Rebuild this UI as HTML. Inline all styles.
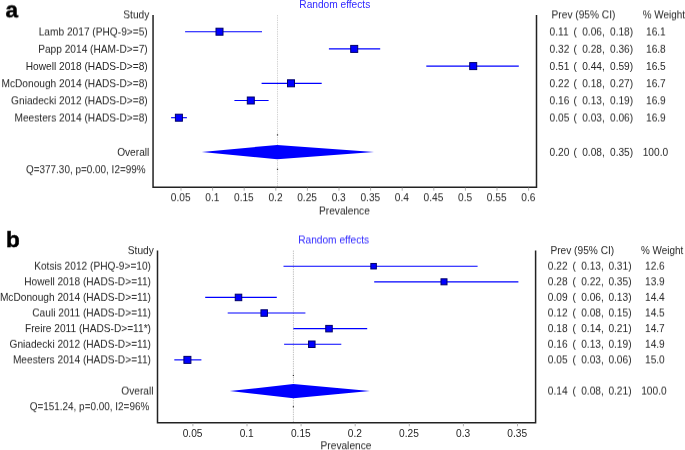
<!DOCTYPE html>
<html><head><meta charset="utf-8"><title>Forest plot</title>
<style>
html,body{margin:0;padding:0;background:#fff;}
body{width:685px;height:450px;overflow:hidden;font-family:'Liberation Sans', sans-serif;}
svg{display:block;font-family:'Liberation Sans', sans-serif;}
</style></head><body>
<svg width="685" height="450" viewBox="0 0 685 450">
<rect width="685" height="450" fill="#ffffff"/>
<defs><filter id="s0" x="-3%" y="-30%" width="106%" height="160%" color-interpolation-filters="sRGB"><feConvolveMatrix order="1 2" kernelMatrix="1.0 0.0" targetX="0" targetY="1" edgeMode="none" preserveAlpha="false"/></filter>
<filter id="s1" x="-3%" y="-30%" width="106%" height="160%" color-interpolation-filters="sRGB"><feConvolveMatrix order="1 2" kernelMatrix="0.9 0.1" targetX="0" targetY="1" edgeMode="none" preserveAlpha="false"/></filter>
<filter id="s2" x="-3%" y="-30%" width="106%" height="160%" color-interpolation-filters="sRGB"><feConvolveMatrix order="1 2" kernelMatrix="0.8 0.2" targetX="0" targetY="1" edgeMode="none" preserveAlpha="false"/></filter>
<filter id="s3" x="-3%" y="-30%" width="106%" height="160%" color-interpolation-filters="sRGB"><feConvolveMatrix order="1 2" kernelMatrix="0.7 0.3" targetX="0" targetY="1" edgeMode="none" preserveAlpha="false"/></filter>
<filter id="s4" x="-3%" y="-30%" width="106%" height="160%" color-interpolation-filters="sRGB"><feConvolveMatrix order="1 2" kernelMatrix="0.6 0.4" targetX="0" targetY="1" edgeMode="none" preserveAlpha="false"/></filter>
<filter id="s5" x="-3%" y="-30%" width="106%" height="160%" color-interpolation-filters="sRGB"><feConvolveMatrix order="1 2" kernelMatrix="0.5 0.5" targetX="0" targetY="1" edgeMode="none" preserveAlpha="false"/></filter>
<filter id="s6" x="-3%" y="-30%" width="106%" height="160%" color-interpolation-filters="sRGB"><feConvolveMatrix order="1 2" kernelMatrix="0.4 0.6" targetX="0" targetY="1" edgeMode="none" preserveAlpha="false"/></filter>
<filter id="s7" x="-3%" y="-30%" width="106%" height="160%" color-interpolation-filters="sRGB"><feConvolveMatrix order="1 2" kernelMatrix="0.3 0.7" targetX="0" targetY="1" edgeMode="none" preserveAlpha="false"/></filter>
<filter id="s8" x="-3%" y="-30%" width="106%" height="160%" color-interpolation-filters="sRGB"><feConvolveMatrix order="1 2" kernelMatrix="0.2 0.8" targetX="0" targetY="1" edgeMode="none" preserveAlpha="false"/></filter>
<filter id="s9" x="-3%" y="-30%" width="106%" height="160%" color-interpolation-filters="sRGB"><feConvolveMatrix order="1 2" kernelMatrix="0.1 0.9" targetX="0" targetY="1" edgeMode="none" preserveAlpha="false"/></filter></defs>
<text x="5.5" y="17" filter="url(#s4)" text-anchor="start" fill="#000" font-size="22.5" font-weight="bold" stroke="#000" stroke-width="0.5" xml:space="preserve">a</text>
<text x="149.3" y="18" filter="url(#s4)" text-anchor="end" fill="#262626" font-size="10.17" font-weight="normal"  xml:space="preserve">Study</text>
<text x="299.3" y="8" filter="url(#s0)" text-anchor="start" fill="#3028ff" font-size="10.17" font-weight="normal"  xml:space="preserve">Random effects</text>
<text x="551.6" y="18" filter="url(#s4)" text-anchor="start" fill="#262626" font-size="10.17" font-weight="normal"  xml:space="preserve">Prev (95% CI)</text>
<text x="642.8" y="18" filter="url(#s4)" text-anchor="start" fill="#262626" font-size="10.17" font-weight="normal" textLength="42.2" lengthAdjust="spacingAndGlyphs" xml:space="preserve">% Weight</text>
<line x1="277.5" y1="15" x2="277.5" y2="187.2" stroke="#d4d4d4" stroke-width="1.0" stroke-dasharray="1.4 0.9"/>
<text x="147.7" y="35" filter="url(#s5)" text-anchor="end" fill="#262626" font-size="10.17" font-weight="normal"  xml:space="preserve">Lamb 2017 (PHQ-9&gt;=5)</text>
<line x1="185.1" y1="31.7" x2="262.0" y2="31.7" stroke="#0000ff" stroke-width="1.15" />
<rect x="216.00" y="28.20" width="7" height="7" fill="#0000ff" stroke="#00006a" stroke-width="1"/>
<text x="549.6" y="35" filter="url(#s5)" text-anchor="start" fill="#262626" font-size="10.17" font-weight="normal"  xml:space="preserve">0.11</text>
<text x="573.6" y="35" filter="url(#s5)" text-anchor="start" fill="#262626" font-size="10.17" font-weight="normal"  xml:space="preserve">(</text>
<text x="582.2" y="35" filter="url(#s5)" text-anchor="start" fill="#262626" font-size="10.17" font-weight="normal"  xml:space="preserve">0.06,</text>
<text x="610.0" y="35" filter="url(#s5)" text-anchor="start" fill="#262626" font-size="10.17" font-weight="normal"  xml:space="preserve">0.18)</text>
<text x="646.0" y="35" filter="url(#s5)" text-anchor="start" fill="#262626" font-size="10.17" font-weight="normal"  xml:space="preserve">16.1</text>
<text x="147.7" y="52" filter="url(#s8)" text-anchor="end" fill="#262626" font-size="10.17" font-weight="normal"  xml:space="preserve">Papp 2014 (HAM-D&gt;=7)</text>
<line x1="328.9" y1="48.9" x2="380.2" y2="48.9" stroke="#0000ff" stroke-width="1.15" />
<rect x="350.70" y="45.40" width="7" height="7" fill="#0000ff" stroke="#00006a" stroke-width="1"/>
<text x="549.6" y="52" filter="url(#s8)" text-anchor="start" fill="#262626" font-size="10.17" font-weight="normal"  xml:space="preserve">0.32</text>
<text x="573.6" y="52" filter="url(#s8)" text-anchor="start" fill="#262626" font-size="10.17" font-weight="normal"  xml:space="preserve">(</text>
<text x="582.2" y="52" filter="url(#s8)" text-anchor="start" fill="#262626" font-size="10.17" font-weight="normal"  xml:space="preserve">0.28,</text>
<text x="610.0" y="52" filter="url(#s8)" text-anchor="start" fill="#262626" font-size="10.17" font-weight="normal"  xml:space="preserve">0.36)</text>
<text x="646.0" y="52" filter="url(#s8)" text-anchor="start" fill="#262626" font-size="10.17" font-weight="normal"  xml:space="preserve">16.8</text>
<text x="147.7" y="70" filter="url(#s0)" text-anchor="end" fill="#262626" font-size="10.17" font-weight="normal"  xml:space="preserve">Howell 2018 (HADS-D&gt;=8)</text>
<line x1="426.3" y1="66.1" x2="518.8" y2="66.1" stroke="#0000ff" stroke-width="1.15" />
<rect x="469.70" y="62.60" width="7" height="7" fill="#0000ff" stroke="#00006a" stroke-width="1"/>
<text x="549.6" y="70" filter="url(#s0)" text-anchor="start" fill="#262626" font-size="10.17" font-weight="normal"  xml:space="preserve">0.51</text>
<text x="573.6" y="70" filter="url(#s0)" text-anchor="start" fill="#262626" font-size="10.17" font-weight="normal"  xml:space="preserve">(</text>
<text x="582.2" y="70" filter="url(#s0)" text-anchor="start" fill="#262626" font-size="10.17" font-weight="normal"  xml:space="preserve">0.44,</text>
<text x="610.0" y="70" filter="url(#s0)" text-anchor="start" fill="#262626" font-size="10.17" font-weight="normal"  xml:space="preserve">0.59)</text>
<text x="646.0" y="70" filter="url(#s0)" text-anchor="start" fill="#262626" font-size="10.17" font-weight="normal"  xml:space="preserve">16.5</text>
<text x="147.7" y="87" filter="url(#s2)" text-anchor="end" fill="#262626" font-size="10.17" font-weight="normal"  xml:space="preserve">McDonough 2014 (HADS-D&gt;=8)</text>
<line x1="261.6" y1="83.3" x2="321.7" y2="83.3" stroke="#0000ff" stroke-width="1.15" />
<rect x="287.50" y="79.80" width="7" height="7" fill="#0000ff" stroke="#00006a" stroke-width="1"/>
<text x="549.6" y="87" filter="url(#s2)" text-anchor="start" fill="#262626" font-size="10.17" font-weight="normal"  xml:space="preserve">0.22</text>
<text x="573.6" y="87" filter="url(#s2)" text-anchor="start" fill="#262626" font-size="10.17" font-weight="normal"  xml:space="preserve">(</text>
<text x="582.2" y="87" filter="url(#s2)" text-anchor="start" fill="#262626" font-size="10.17" font-weight="normal"  xml:space="preserve">0.18,</text>
<text x="610.0" y="87" filter="url(#s2)" text-anchor="start" fill="#262626" font-size="10.17" font-weight="normal"  xml:space="preserve">0.27)</text>
<text x="646.0" y="87" filter="url(#s2)" text-anchor="start" fill="#262626" font-size="10.17" font-weight="normal"  xml:space="preserve">16.7</text>
<text x="147.7" y="104" filter="url(#s3)" text-anchor="end" fill="#262626" font-size="10.17" font-weight="normal"  xml:space="preserve">Gniadecki 2012 (HADS-D&gt;=8)</text>
<line x1="234.4" y1="100.5" x2="268.6" y2="100.5" stroke="#0000ff" stroke-width="1.15" />
<rect x="247.30" y="97.00" width="7" height="7" fill="#0000ff" stroke="#00006a" stroke-width="1"/>
<text x="549.6" y="104" filter="url(#s3)" text-anchor="start" fill="#262626" font-size="10.17" font-weight="normal"  xml:space="preserve">0.16</text>
<text x="573.6" y="104" filter="url(#s3)" text-anchor="start" fill="#262626" font-size="10.17" font-weight="normal"  xml:space="preserve">(</text>
<text x="582.2" y="104" filter="url(#s3)" text-anchor="start" fill="#262626" font-size="10.17" font-weight="normal"  xml:space="preserve">0.13,</text>
<text x="610.0" y="104" filter="url(#s3)" text-anchor="start" fill="#262626" font-size="10.17" font-weight="normal"  xml:space="preserve">0.19)</text>
<text x="646.0" y="104" filter="url(#s3)" text-anchor="start" fill="#262626" font-size="10.17" font-weight="normal"  xml:space="preserve">16.9</text>
<text x="147.7" y="121" filter="url(#s5)" text-anchor="end" fill="#262626" font-size="10.17" font-weight="normal"  xml:space="preserve">Meesters 2014 (HADS-D&gt;=8)</text>
<line x1="171.1" y1="117.7" x2="186.9" y2="117.7" stroke="#0000ff" stroke-width="1.15" />
<rect x="175.40" y="114.20" width="7" height="7" fill="#0000ff" stroke="#00006a" stroke-width="1"/>
<text x="549.6" y="121" filter="url(#s5)" text-anchor="start" fill="#262626" font-size="10.17" font-weight="normal"  xml:space="preserve">0.05</text>
<text x="573.6" y="121" filter="url(#s5)" text-anchor="start" fill="#262626" font-size="10.17" font-weight="normal"  xml:space="preserve">(</text>
<text x="582.2" y="121" filter="url(#s5)" text-anchor="start" fill="#262626" font-size="10.17" font-weight="normal"  xml:space="preserve">0.03,</text>
<text x="610.0" y="121" filter="url(#s5)" text-anchor="start" fill="#262626" font-size="10.17" font-weight="normal"  xml:space="preserve">0.06)</text>
<text x="646.0" y="121" filter="url(#s5)" text-anchor="start" fill="#262626" font-size="10.17" font-weight="normal"  xml:space="preserve">16.9</text>
<text x="149.3" y="155" filter="url(#s9)" text-anchor="end" fill="#262626" font-size="10.17" font-weight="normal"  xml:space="preserve">Overall</text>
<text x="145.6" y="173" filter="url(#s2)" text-anchor="end" fill="#262626" font-size="10.17" font-weight="normal" textLength="119.6" lengthAdjust="spacingAndGlyphs" xml:space="preserve">Q=377.30, p=0.00, I2=99%</text>
<polygon points="201.8,152.1 277.2,144.9 374.0,152.1 277.2,159.29999999999998" fill="#0000ff"/>
<rect x="276.9" y="134.3" width="1.2" height="1.2" fill="#333"/>
<rect x="276.9" y="168.70000000000002" width="1.2" height="1.2" fill="#333"/>
<text x="549.6" y="155" filter="url(#s9)" text-anchor="start" fill="#262626" font-size="10.17" font-weight="normal"  xml:space="preserve">0.20</text>
<text x="573.6" y="155" filter="url(#s9)" text-anchor="start" fill="#262626" font-size="10.17" font-weight="normal"  xml:space="preserve">(</text>
<text x="582.2" y="155" filter="url(#s9)" text-anchor="start" fill="#262626" font-size="10.17" font-weight="normal"  xml:space="preserve">0.08,</text>
<text x="610.0" y="155" filter="url(#s9)" text-anchor="start" fill="#262626" font-size="10.17" font-weight="normal"  xml:space="preserve">0.35)</text>
<text x="642.7" y="155" filter="url(#s9)" text-anchor="start" fill="#262626" font-size="10.17" font-weight="normal"  xml:space="preserve">100.0</text>
<polyline points="153.05,15 153.05,187.2 536.5,187.2 536.5,15" fill="none" stroke="#222222" stroke-width="1.5"/>
<line x1="181.0" y1="187.7" x2="181.0" y2="190.7" stroke="#b0b0b0" stroke-width="1" />
<text x="180.7" y="201" filter="url(#s2)" text-anchor="middle" fill="#262626" font-size="10.17" font-weight="normal"  xml:space="preserve">0.05</text>
<line x1="212.6" y1="187.7" x2="212.6" y2="190.7" stroke="#b0b0b0" stroke-width="1" />
<text x="212.29999999999998" y="201" filter="url(#s2)" text-anchor="middle" fill="#262626" font-size="10.17" font-weight="normal"  xml:space="preserve">0.1</text>
<line x1="244.2" y1="187.7" x2="244.2" y2="190.7" stroke="#b0b0b0" stroke-width="1" />
<text x="243.89999999999998" y="201" filter="url(#s2)" text-anchor="middle" fill="#262626" font-size="10.17" font-weight="normal"  xml:space="preserve">0.15</text>
<line x1="275.8" y1="187.7" x2="275.8" y2="190.7" stroke="#b0b0b0" stroke-width="1" />
<text x="275.5" y="201" filter="url(#s2)" text-anchor="middle" fill="#262626" font-size="10.17" font-weight="normal"  xml:space="preserve">0.2</text>
<line x1="307.40000000000003" y1="187.7" x2="307.40000000000003" y2="190.7" stroke="#b0b0b0" stroke-width="1" />
<text x="307.1" y="201" filter="url(#s2)" text-anchor="middle" fill="#262626" font-size="10.17" font-weight="normal"  xml:space="preserve">0.25</text>
<line x1="339.0" y1="187.7" x2="339.0" y2="190.7" stroke="#b0b0b0" stroke-width="1" />
<text x="338.7" y="201" filter="url(#s2)" text-anchor="middle" fill="#262626" font-size="10.17" font-weight="normal"  xml:space="preserve">0.3</text>
<line x1="370.6" y1="187.7" x2="370.6" y2="190.7" stroke="#b0b0b0" stroke-width="1" />
<text x="370.3" y="201" filter="url(#s2)" text-anchor="middle" fill="#262626" font-size="10.17" font-weight="normal"  xml:space="preserve">0.35</text>
<line x1="402.2" y1="187.7" x2="402.2" y2="190.7" stroke="#b0b0b0" stroke-width="1" />
<text x="401.9" y="201" filter="url(#s2)" text-anchor="middle" fill="#262626" font-size="10.17" font-weight="normal"  xml:space="preserve">0.4</text>
<line x1="433.8" y1="187.7" x2="433.8" y2="190.7" stroke="#b0b0b0" stroke-width="1" />
<text x="433.5" y="201" filter="url(#s2)" text-anchor="middle" fill="#262626" font-size="10.17" font-weight="normal"  xml:space="preserve">0.45</text>
<line x1="465.40000000000003" y1="187.7" x2="465.40000000000003" y2="190.7" stroke="#b0b0b0" stroke-width="1" />
<text x="465.1" y="201" filter="url(#s2)" text-anchor="middle" fill="#262626" font-size="10.17" font-weight="normal"  xml:space="preserve">0.5</text>
<line x1="497.0" y1="187.7" x2="497.0" y2="190.7" stroke="#b0b0b0" stroke-width="1" />
<text x="496.7" y="201" filter="url(#s2)" text-anchor="middle" fill="#262626" font-size="10.17" font-weight="normal"  xml:space="preserve">0.55</text>
<line x1="528.5999999999999" y1="187.7" x2="528.5999999999999" y2="190.7" stroke="#b0b0b0" stroke-width="1" />
<text x="528.3" y="201" filter="url(#s2)" text-anchor="middle" fill="#262626" font-size="10.17" font-weight="normal"  xml:space="preserve">0.6</text>
<text x="319.0" y="214" filter="url(#s5)" text-anchor="start" fill="#262626" font-size="10.17" font-weight="normal"  xml:space="preserve">Prevalence</text>
<text x="6.1" y="247" filter="url(#s1)" text-anchor="start" fill="#000" font-size="22.5" font-weight="bold" stroke="#000" stroke-width="0.5" xml:space="preserve">b</text>
<text x="153.8" y="254" filter="url(#s1)" text-anchor="end" fill="#262626" font-size="10.17" font-weight="normal"  xml:space="preserve">Study</text>
<text x="298.2" y="243" filter="url(#s5)" text-anchor="start" fill="#3028ff" font-size="10.17" font-weight="normal"  xml:space="preserve">Random effects</text>
<text x="550.4" y="254" filter="url(#s1)" text-anchor="start" fill="#262626" font-size="10.17" font-weight="normal"  xml:space="preserve">Prev (95% CI)</text>
<text x="641.0" y="254" filter="url(#s1)" text-anchor="start" fill="#262626" font-size="10.17" font-weight="normal" textLength="42.2" lengthAdjust="spacingAndGlyphs" xml:space="preserve">% Weight</text>
<line x1="293.4" y1="250.5" x2="293.4" y2="422.8" stroke="#c2c2c2" stroke-width="1.0" stroke-dasharray="1.4 0.9"/>
<text x="151.0" y="269" filter="url(#s7)" text-anchor="end" fill="#262626" font-size="10.17" font-weight="normal"  xml:space="preserve">Kotsis 2012 (PHQ-9&gt;=10)</text>
<line x1="283.5" y1="266.21" x2="477.6" y2="266.21" stroke="#0000ff" stroke-width="1.15" />
<rect x="370.85" y="263.46" width="5.5" height="5.5" fill="#0000ff" stroke="#00006a" stroke-width="1"/>
<text x="547.8" y="269" filter="url(#s7)" text-anchor="start" fill="#262626" font-size="10.17" font-weight="normal"  xml:space="preserve">0.22</text>
<text x="572.4" y="269" filter="url(#s7)" text-anchor="start" fill="#262626" font-size="10.17" font-weight="normal"  xml:space="preserve">(</text>
<text x="581.2" y="269" filter="url(#s7)" text-anchor="start" fill="#262626" font-size="10.17" font-weight="normal"  xml:space="preserve">0.13,</text>
<text x="608.4" y="269" filter="url(#s7)" text-anchor="start" fill="#262626" font-size="10.17" font-weight="normal"  xml:space="preserve">0.31)</text>
<text x="645.0" y="269" filter="url(#s7)" text-anchor="start" fill="#262626" font-size="10.17" font-weight="normal"  xml:space="preserve">12.6</text>
<text x="151.0" y="285" filter="url(#s3)" text-anchor="end" fill="#262626" font-size="10.17" font-weight="normal"  xml:space="preserve">Howell 2018 (HADS-D&gt;=11)</text>
<line x1="374.2" y1="281.82" x2="518.4" y2="281.82" stroke="#0000ff" stroke-width="1.15" />
<rect x="441.00" y="278.82" width="6" height="6" fill="#0000ff" stroke="#00006a" stroke-width="1"/>
<text x="547.8" y="285" filter="url(#s3)" text-anchor="start" fill="#262626" font-size="10.17" font-weight="normal"  xml:space="preserve">0.28</text>
<text x="572.4" y="285" filter="url(#s3)" text-anchor="start" fill="#262626" font-size="10.17" font-weight="normal"  xml:space="preserve">(</text>
<text x="581.2" y="285" filter="url(#s3)" text-anchor="start" fill="#262626" font-size="10.17" font-weight="normal"  xml:space="preserve">0.22,</text>
<text x="608.4" y="285" filter="url(#s3)" text-anchor="start" fill="#262626" font-size="10.17" font-weight="normal"  xml:space="preserve">0.35)</text>
<text x="645.0" y="285" filter="url(#s3)" text-anchor="start" fill="#262626" font-size="10.17" font-weight="normal"  xml:space="preserve">13.9</text>
<text x="151.0" y="300" filter="url(#s9)" text-anchor="end" fill="#262626" font-size="10.17" font-weight="normal"  xml:space="preserve">McDonough 2014 (HADS-D&gt;=11)</text>
<line x1="205.2" y1="297.43" x2="276.8" y2="297.43" stroke="#0000ff" stroke-width="1.15" />
<rect x="235.25" y="294.18" width="6.5" height="6.5" fill="#0000ff" stroke="#00006a" stroke-width="1"/>
<text x="547.8" y="300" filter="url(#s9)" text-anchor="start" fill="#262626" font-size="10.17" font-weight="normal"  xml:space="preserve">0.09</text>
<text x="572.4" y="300" filter="url(#s9)" text-anchor="start" fill="#262626" font-size="10.17" font-weight="normal"  xml:space="preserve">(</text>
<text x="581.2" y="300" filter="url(#s9)" text-anchor="start" fill="#262626" font-size="10.17" font-weight="normal"  xml:space="preserve">0.06,</text>
<text x="608.4" y="300" filter="url(#s9)" text-anchor="start" fill="#262626" font-size="10.17" font-weight="normal"  xml:space="preserve">0.13)</text>
<text x="645.0" y="300" filter="url(#s9)" text-anchor="start" fill="#262626" font-size="10.17" font-weight="normal"  xml:space="preserve">14.4</text>
<text x="151.0" y="316" filter="url(#s5)" text-anchor="end" fill="#262626" font-size="10.17" font-weight="normal"  xml:space="preserve">Cauli 2011 (HADS-D&gt;=11)</text>
<line x1="227.7" y1="313.04" x2="305.4" y2="313.04" stroke="#0000ff" stroke-width="1.15" />
<rect x="260.95" y="309.79" width="6.5" height="6.5" fill="#0000ff" stroke="#00006a" stroke-width="1"/>
<text x="547.8" y="316" filter="url(#s5)" text-anchor="start" fill="#262626" font-size="10.17" font-weight="normal"  xml:space="preserve">0.12</text>
<text x="572.4" y="316" filter="url(#s5)" text-anchor="start" fill="#262626" font-size="10.17" font-weight="normal"  xml:space="preserve">(</text>
<text x="581.2" y="316" filter="url(#s5)" text-anchor="start" fill="#262626" font-size="10.17" font-weight="normal"  xml:space="preserve">0.08,</text>
<text x="608.4" y="316" filter="url(#s5)" text-anchor="start" fill="#262626" font-size="10.17" font-weight="normal"  xml:space="preserve">0.15)</text>
<text x="645.0" y="316" filter="url(#s5)" text-anchor="start" fill="#262626" font-size="10.17" font-weight="normal"  xml:space="preserve">14.5</text>
<text x="151.0" y="332" filter="url(#s1)" text-anchor="end" fill="#262626" font-size="10.17" font-weight="normal"  xml:space="preserve">Freire 2011 (HADS-D&gt;=11*)</text>
<line x1="293.4" y1="328.65" x2="367.2" y2="328.65" stroke="#0000ff" stroke-width="1.15" />
<rect x="325.75" y="325.40" width="6.5" height="6.5" fill="#0000ff" stroke="#00006a" stroke-width="1"/>
<text x="547.8" y="332" filter="url(#s1)" text-anchor="start" fill="#262626" font-size="10.17" font-weight="normal"  xml:space="preserve">0.18</text>
<text x="572.4" y="332" filter="url(#s1)" text-anchor="start" fill="#262626" font-size="10.17" font-weight="normal"  xml:space="preserve">(</text>
<text x="581.2" y="332" filter="url(#s1)" text-anchor="start" fill="#262626" font-size="10.17" font-weight="normal"  xml:space="preserve">0.14,</text>
<text x="608.4" y="332" filter="url(#s1)" text-anchor="start" fill="#262626" font-size="10.17" font-weight="normal"  xml:space="preserve">0.21)</text>
<text x="645.0" y="332" filter="url(#s1)" text-anchor="start" fill="#262626" font-size="10.17" font-weight="normal"  xml:space="preserve">14.7</text>
<text x="151.0" y="347" filter="url(#s8)" text-anchor="end" fill="#262626" font-size="10.17" font-weight="normal"  xml:space="preserve">Gniadecki 2012 (HADS-D&gt;=11)</text>
<line x1="284.1" y1="344.26" x2="341.3" y2="344.26" stroke="#0000ff" stroke-width="1.15" />
<rect x="308.55" y="341.01" width="6.5" height="6.5" fill="#0000ff" stroke="#00006a" stroke-width="1"/>
<text x="547.8" y="347" filter="url(#s8)" text-anchor="start" fill="#262626" font-size="10.17" font-weight="normal"  xml:space="preserve">0.16</text>
<text x="572.4" y="347" filter="url(#s8)" text-anchor="start" fill="#262626" font-size="10.17" font-weight="normal"  xml:space="preserve">(</text>
<text x="581.2" y="347" filter="url(#s8)" text-anchor="start" fill="#262626" font-size="10.17" font-weight="normal"  xml:space="preserve">0.13,</text>
<text x="608.4" y="347" filter="url(#s8)" text-anchor="start" fill="#262626" font-size="10.17" font-weight="normal"  xml:space="preserve">0.19)</text>
<text x="645.0" y="347" filter="url(#s8)" text-anchor="start" fill="#262626" font-size="10.17" font-weight="normal"  xml:space="preserve">14.9</text>
<text x="151.0" y="363" filter="url(#s4)" text-anchor="end" fill="#262626" font-size="10.17" font-weight="normal"  xml:space="preserve">Meesters 2014 (HADS-D&gt;=11)</text>
<line x1="174.3" y1="359.87" x2="201.4" y2="359.87" stroke="#0000ff" stroke-width="1.15" />
<rect x="183.90" y="356.37" width="7" height="7" fill="#0000ff" stroke="#00006a" stroke-width="1"/>
<text x="547.8" y="363" filter="url(#s4)" text-anchor="start" fill="#262626" font-size="10.17" font-weight="normal"  xml:space="preserve">0.05</text>
<text x="572.4" y="363" filter="url(#s4)" text-anchor="start" fill="#262626" font-size="10.17" font-weight="normal"  xml:space="preserve">(</text>
<text x="581.2" y="363" filter="url(#s4)" text-anchor="start" fill="#262626" font-size="10.17" font-weight="normal"  xml:space="preserve">0.03,</text>
<text x="608.4" y="363" filter="url(#s4)" text-anchor="start" fill="#262626" font-size="10.17" font-weight="normal"  xml:space="preserve">0.06)</text>
<text x="645.0" y="363" filter="url(#s4)" text-anchor="start" fill="#262626" font-size="10.17" font-weight="normal"  xml:space="preserve">15.0</text>
<text x="153.5" y="394" filter="url(#s6)" text-anchor="end" fill="#262626" font-size="10.17" font-weight="normal"  xml:space="preserve">Overall</text>
<text x="149.3" y="410" filter="url(#s2)" text-anchor="end" fill="#262626" font-size="10.17" font-weight="normal" textLength="119.6" lengthAdjust="spacingAndGlyphs" xml:space="preserve">Q=151.24, p=0.00, I2=96%</text>
<polygon points="229.8,391.09 293.4,383.98999999999995 369.9,391.09 293.4,398.19" fill="#0000ff"/>
<rect x="292.79999999999995" y="374.88" width="1.2" height="1.2" fill="#333"/>
<rect x="292.79999999999995" y="406.09999999999997" width="1.2" height="1.2" fill="#333"/>
<text x="547.8" y="394" filter="url(#s6)" text-anchor="start" fill="#262626" font-size="10.17" font-weight="normal"  xml:space="preserve">0.14</text>
<text x="572.4" y="394" filter="url(#s6)" text-anchor="start" fill="#262626" font-size="10.17" font-weight="normal"  xml:space="preserve">(</text>
<text x="581.2" y="394" filter="url(#s6)" text-anchor="start" fill="#262626" font-size="10.17" font-weight="normal"  xml:space="preserve">0.08,</text>
<text x="608.4" y="394" filter="url(#s6)" text-anchor="start" fill="#262626" font-size="10.17" font-weight="normal"  xml:space="preserve">0.21)</text>
<text x="641.2" y="394" filter="url(#s6)" text-anchor="start" fill="#262626" font-size="10.17" font-weight="normal"  xml:space="preserve">100.0</text>
<polyline points="157.5,250.5 157.5,422.8 535.6,422.8 535.6,250.5" fill="none" stroke="#222222" stroke-width="1.5"/>
<line x1="192.9" y1="423.3" x2="192.9" y2="426.3" stroke="#b0b0b0" stroke-width="1" />
<text x="192.6" y="437" filter="url(#s0)" text-anchor="middle" fill="#262626" font-size="10.17" font-weight="normal"  xml:space="preserve">0.05</text>
<line x1="247.0" y1="423.3" x2="247.0" y2="426.3" stroke="#b0b0b0" stroke-width="1" />
<text x="246.7" y="437" filter="url(#s0)" text-anchor="middle" fill="#262626" font-size="10.17" font-weight="normal"  xml:space="preserve">0.1</text>
<line x1="301.1" y1="423.3" x2="301.1" y2="426.3" stroke="#b0b0b0" stroke-width="1" />
<text x="300.8" y="437" filter="url(#s0)" text-anchor="middle" fill="#262626" font-size="10.17" font-weight="normal"  xml:space="preserve">0.15</text>
<line x1="355.2" y1="423.3" x2="355.2" y2="426.3" stroke="#b0b0b0" stroke-width="1" />
<text x="354.9" y="437" filter="url(#s0)" text-anchor="middle" fill="#262626" font-size="10.17" font-weight="normal"  xml:space="preserve">0.2</text>
<line x1="409.3" y1="423.3" x2="409.3" y2="426.3" stroke="#b0b0b0" stroke-width="1" />
<text x="409.0" y="437" filter="url(#s0)" text-anchor="middle" fill="#262626" font-size="10.17" font-weight="normal"  xml:space="preserve">0.25</text>
<line x1="463.40000000000003" y1="423.3" x2="463.40000000000003" y2="426.3" stroke="#b0b0b0" stroke-width="1" />
<text x="463.1" y="437" filter="url(#s0)" text-anchor="middle" fill="#262626" font-size="10.17" font-weight="normal"  xml:space="preserve">0.3</text>
<line x1="517.5" y1="423.3" x2="517.5" y2="426.3" stroke="#b0b0b0" stroke-width="1" />
<text x="517.2" y="437" filter="url(#s0)" text-anchor="middle" fill="#262626" font-size="10.17" font-weight="normal"  xml:space="preserve">0.35</text>
<text x="320.6" y="449" filter="url(#s3)" text-anchor="start" fill="#262626" font-size="10.17" font-weight="normal"  xml:space="preserve">Prevalence</text>
</svg>
</body></html>
